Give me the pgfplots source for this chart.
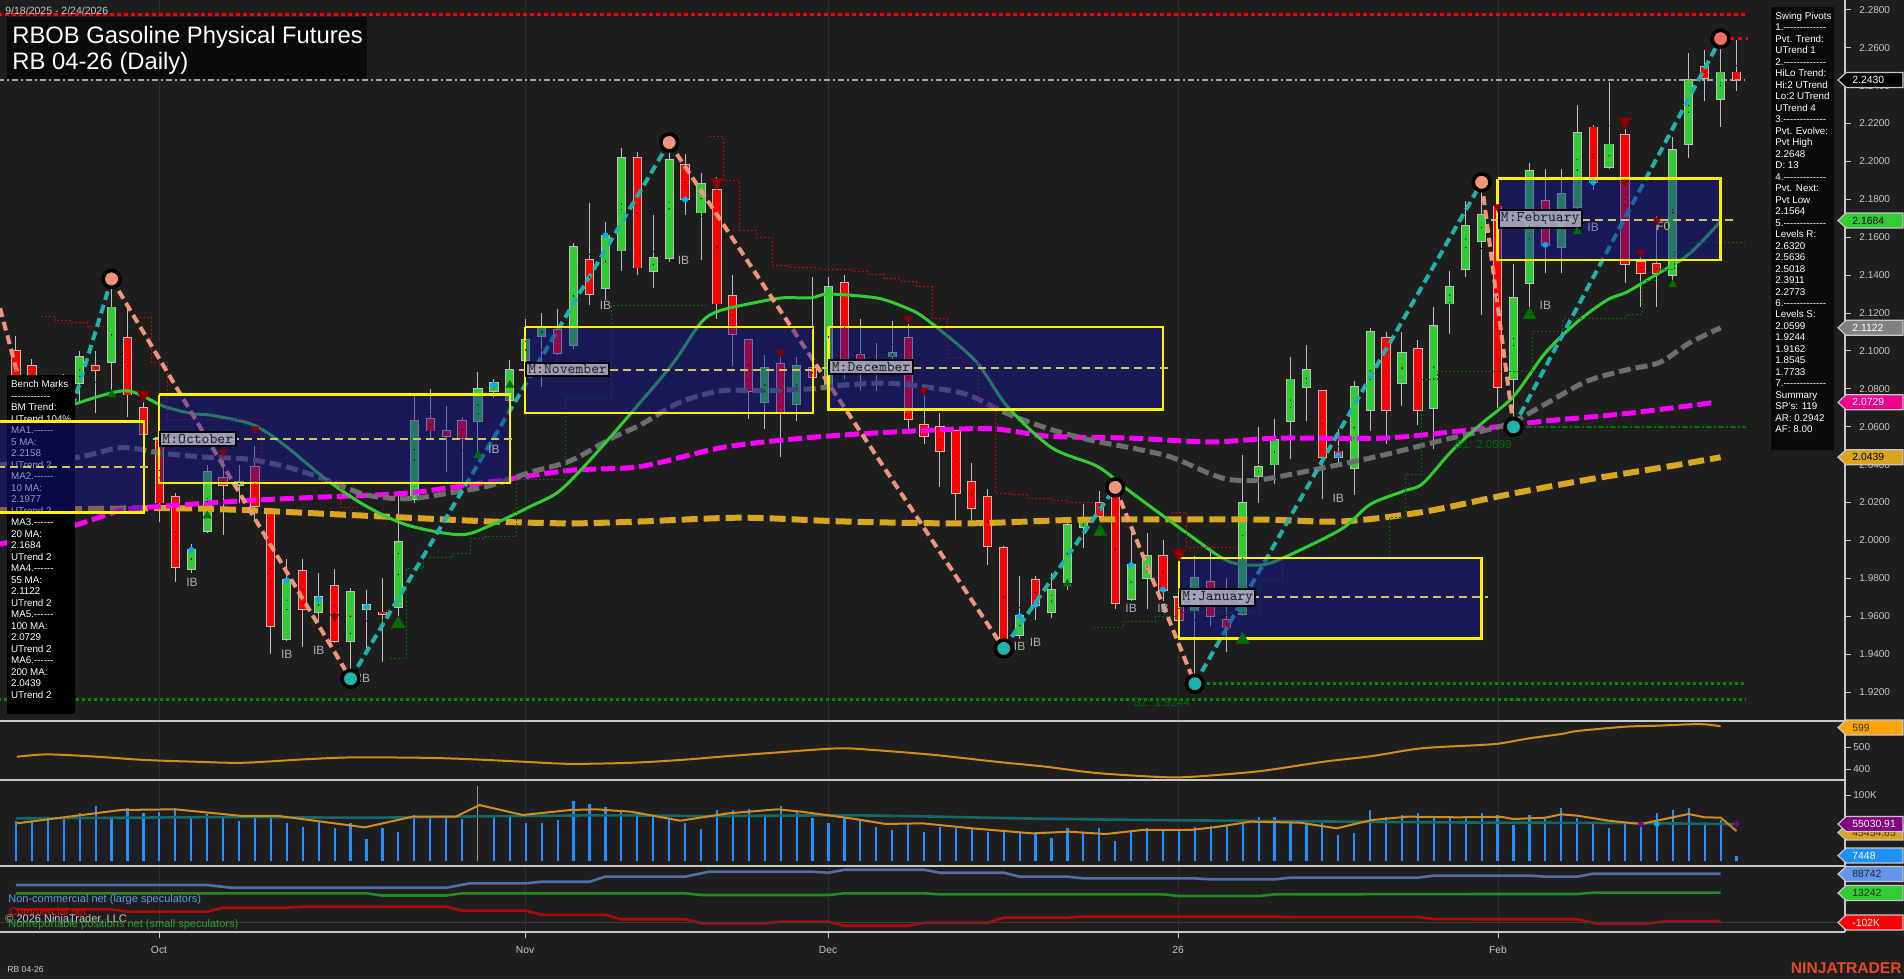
\documentclass[border=0pt]{standalone}
\usepackage{fontspec}
\setmainfont{Liberation Sans}
\usepackage{pgfplots}
\usepackage{pgfplotstable}
\pgfplotsset{compat=1.18}

\definecolor{bg}{RGB}{30,30,30}
\definecolor{wick}{RGB}{190,190,190}
\definecolor{upc}{RGB}{50,205,50}
\definecolor{dnc}{RGB}{255,0,0}
\definecolor{ma20}{RGB}{50,205,50}
\definecolor{ma55}{RGB}{110,110,110}
\definecolor{ma100}{RGB}{255,0,255}
\definecolor{ma200}{RGB}{218,165,32}
\definecolor{zzdn}{RGB}{240,150,120}
\definecolor{zzup}{RGB}{32,178,170}
\definecolor{boxfill}{RGB}{20,20,160}
\definecolor{midl}{RGB}{205,200,90}
\definecolor{lblfill}{RGB}{170,170,195}
\definecolor{axgray}{RGB}{200,200,200}
\definecolor{ibgray}{RGB}{175,175,175}
\definecolor{volblue}{RGB}{30,144,255}
\definecolor{cotblue}{RGB}{80,110,170}
\definecolor{cotgreen}{RGB}{34,139,34}
\definecolor{cotred}{RGB}{178,10,10}
\definecolor{ntorange}{RGB}{232,72,40}
\definecolor{gridc}{RGB}{46,46,46}
\definecolor{dkgreen}{RGB}{0,110,0}
\definecolor{dkred}{RGB}{139,0,0}
\definecolor{sgreen}{RGB}{0,145,0}
\definecolor{orline}{RGB}{210,140,25}
\definecolor{vteal}{RGB}{20,105,105}
\definecolor{legblue}{RGB}{100,149,237}
\definecolor{panelbk}{RGB}{10,10,10}
\definecolor{tagpurple}{RGB}{128,0,128}
\definecolor{tagorange}{RGB}{255,165,0}

\newcommand{\hy}{-\kern0pt}
\newcommand{\dl}{\hy\hy\hy\hy\hy\hy\hy\hy\hy\hy\hy\hy\hy}
\newcommand{\ds}{\hy\hy\hy\hy\hy\hy}
\newcommand{\db}{\hy\hy\hy\hy\hy\hy\hy\hy\hy\hy\hy\hy}
\newcommand{\ptag}[5]{%
  \draw[fill=#2, draw=#5, line width=0.6pt] (1838,#1) -- (1846,{#1-7.5}) -- (1903,{#1-7.5}) -- (1903,{#1+7.5}) -- (1846,{#1+7.5}) -- cycle;
  \node[anchor=west, inner sep=0pt, text=#3, font=\fontsize{5.2pt}{6pt}\selectfont] at (1852,#1) {#4};}

\pgfplotstableread{
i O H L C
3 2.045 2.088 2.040 2.083
4 2.083 2.100 2.073 2.097
6 2.094 2.138 2.079 2.123
11 1.985 1.998 1.983 1.995
12 2.005 2.040 2.004 2.036
14 2.029 2.040 2.020 2.031
17 1.948 1.990 1.947 1.979
19 1.962 1.983 1.957 1.970
21 1.947 1.975 1.927 1.973
22 1.964 1.974 1.941 1.966
24 1.965 2.026 1.960 1.999
25 2.022 2.076 2.020 2.063
29 2.063 2.089 2.045 2.080
30 2.079 2.085 2.075 2.083
31 2.074 2.095 2.070 2.090
32 2.095 2.117 2.093 2.106
33 2.108 2.120 2.081 2.112
35 2.103 2.157 2.101 2.155
37 2.133 2.168 2.127 2.161
38 2.153 2.207 2.142 2.202
40 2.142 2.172 2.133 2.149
41 2.149 2.210 2.147 2.201
43 2.173 2.194 2.148 2.188
47 2.073 2.098 2.059 2.091
49 2.072 2.097 2.063 2.092
51 2.081 2.139 2.075 2.134
54 2.091 2.104 2.079 2.092
55 2.097 2.116 2.091 2.099
63 1.950 1.981 1.948 1.960
65 1.962 1.983 1.959 1.974
66 1.978 2.012 1.974 2.008
67 2.007 2.019 1.996 2.010
70 1.969 2.004 1.968 1.987
71 1.980 2.004 1.964 1.992
74 1.963 1.992 1.9244 1.980
77 1.961 2.045 1.960 2.020
78 2.034 2.060 2.020 2.039
79 2.040 2.064 2.030 2.053
80 2.063 2.097 2.043 2.085
81 2.081 2.103 2.063 2.090
84 2.038 2.084 2.024 2.081
85 2.069 2.112 2.058 2.110
87 2.083 2.110 2.071 2.099
89 2.070 2.123 2.048 2.113
90 2.125 2.142 2.109 2.134
91 2.143 2.179 2.139 2.166
92 2.158 2.189 2.119 2.172
94 2.085 2.146 2.0599 2.128
95 2.136 2.199 2.119 2.195
97 2.155 2.196 2.141 2.183
98 2.176 2.230 2.172 2.215
100 2.197 2.242 2.196 2.209
104 2.140 2.213 2.136 2.206
105 2.209 2.257 2.202 2.243
107 2.233 2.2648 2.218 2.247
}\upc

\pgfplotstableread{
i O H L C
0 2.100 2.108 2.075 2.080
1 2.092 2.096 2.070 2.075
2 2.070 2.078 2.028 2.040
5 2.092 2.100 2.067 2.090
7 2.107 2.126 2.065 2.077
8 2.070 2.073 2.052 2.056
9 2.054 2.056 2.010 2.020
10 2.023 2.025 1.978 1.986
13 2.033 2.043 2.003 2.029
15 2.039 2.050 2.010 2.018
16 2.015 2.016 1.940 1.955
18 1.984 1.990 1.944 1.964
20 1.976 1.985 1.946 1.947
23 1.962 1.980 1.936 1.961
26 2.064 2.080 2.053 2.058
27 2.058 2.071 2.036 2.055
28 2.063 2.065 2.030 2.054
34 2.111 2.122 2.098 2.099
36 2.148 2.178 2.124 2.130
39 2.202 2.205 2.140 2.144
42 2.198 2.204 2.172 2.180
44 2.185 2.192 2.117 2.125
45 2.129 2.140 2.092 2.109
46 2.106 2.106 2.064 2.079
48 2.093 2.097 2.044 2.068
50 2.091 2.139 2.085 2.086
52 2.136 2.140 2.085 2.093
53 2.098 2.117 2.079 2.092
56 2.107 2.114 2.059 2.064
57 2.061 2.077 2.051 2.055
58 2.060 2.067 2.028 2.047
59 2.058 2.058 2.011 2.025
60 2.031 2.041 2.009 2.017
61 2.023 2.027 1.987 1.997
62 1.996 1.997 1.943 1.944
64 1.979 1.981 1.958 1.966
68 2.020 2.026 2.011 2.013
69 2.023 2.028 1.964 1.967
72 1.992 2.000 1.968 1.974
73 1.970 1.993 1.955 1.958
75 1.978 1.995 1.955 1.960
76 1.958 1.980 1.941 1.954
82 2.079 2.079 2.022 2.044
83 2.047 2.059 2.040 2.044
86 2.107 2.110 2.051 2.069
88 2.101 2.106 2.061 2.069
93 2.176 2.186 2.070 2.081
96 2.179 2.196 2.141 2.156
99 2.218 2.219 2.185 2.189
101 2.214 2.217 2.136 2.146
102 2.147 2.150 2.123 2.141
103 2.146 2.171 2.123 2.141
106 2.250 2.259 2.232 2.244
108 2.247 2.264 2.237 2.243
}\dnc

\pgfplotstableread{
i v
0 61.1
1 59.6
2 63.1
3 63.6
4 72.2
5 83.3
6 65.6
7 79.8
8 72.2
9 74.7
10 79.8
11 64.6
12 71.2
13 64.6
14 61.1
15 67.2
16 65.6
17 57.1
18 52.0
19 61.1
20 49.5
21 57.1
22 32.8
23 49.5
24 44.4
25 69.7
26 68.2
27 64.6
28 63.1
30 68.2
31 66.2
32 57.1
33 58.1
34 62.1
35 91.4
36 86.4
37 81.3
38 77.3
39 72.2
40 68.2
41 64.6
42 57.1
43 48.0
44 77.3
45 77.3
46 78.3
47 71.2
48 83.3
49 74.7
50 64.6
51 57.1
52 64.6
53 61.1
54 52.0
55 47.0
56 57.1
57 44.4
58 52.0
59 49.5
60 48.0
61 44.4
62 47.0
63 44.4
64 41.9
65 34.3
66 49.5
67 44.4
68 50.5
69 30.8
70 45.9
71 49.5
72 47.0
73 45.9
74 52.0
75 53.0
76 54.5
77 59.6
78 66.2
79 67.2
80 59.6
81 58.1
82 57.1
83 39.4
84 41.9
85 77.3
86 67.2
87 69.7
88 72.2
89 67.2
90 67.2
91 66.2
92 72.2
93 69.7
94 54.5
95 69.7
96 63.6
97 80.8
98 65.6
99 59.1
100 50.5
101 56.1
102 51.5
103 72.7
104 77.3
105 80.8
106 59.1
107 62.6
108 7.4
}\vol

\pgfplotsset{
  candlewick/.style={only marks, mark=*, mark size=0.01pt, mark options={draw=none, fill=none},
    error bars/.cd, y dir=both, y explicit, error mark=none,
    error bar style={line width=0.5pt, draw=wick}},
  candlebody/.style 2 args={only marks, mark=*, mark size=0.01pt, mark options={draw=none, fill=none},
    error bars/.cd, y dir=both, y explicit, error mark=none,
    error bar style={line width=#1, draw=#2}},
  panel/.style={anchor=north west, scale only axis, width=922.5pt, xmin=-1.004, xmax=114.81, hide axis},
}
\tikzset{ib/.style={font=\fontsize{6pt}{7pt}\selectfont, text=ibgray, inner sep=0pt},
  mlabel/.style={anchor=west, fill=lblfill, fill opacity=0.9, text opacity=1, draw=black, line width=1pt, inner sep=1.2pt,
    font=\ttfamily\fontsize{7.4pt}{8pt}\selectfont, text=black!85}}

\begin{document}
\begin{tikzpicture}
\path[use as bounding box] (0,0) rectangle (952pt,-489.5pt);
\fill[bg] (0,0) rectangle (952pt,-489.5pt);
\begin{scope}[x=0.5pt,y=-0.5pt]
  \foreach \gx in {159,525,828,1178,1498} {\draw[gridc, line width=0.5pt] (\gx,0) -- (\gx,932);}
\end{scope}

% ================= MAIN PRICE PANEL =================
\begin{axis}[
  at={(0pt,0pt)}, anchor=north west, scale only axis,
  width=922.5pt, height=360.5pt,
  xmin=-1.004, xmax=114.81, ymin=1.9047, ymax=2.2852,
  axis line style={draw=none},
  xtick=\empty,
  ytick={1.92,1.94,1.96,1.98,2.00,2.02,2.04,2.06,2.08,2.10,2.12,2.14,2.16,2.18,2.20,2.22,2.24,2.26,2.28},
  ytick pos=right, yticklabel pos=right,
  tick align=outside, major tick length=3pt,
  y tick style={axgray, line width=0.5pt},
  scaled y ticks=false,
  yticklabel style={font=\fontsize{5pt}{6pt}\selectfont, text=axgray, anchor=west, inner sep=0pt, xshift=4pt,
    /pgf/number format/.cd, fixed, fixed zerofill, precision=4, assume math mode=true},
]
% candles
\addplot[candlewick] table[x=i, y expr={(\thisrow{H}+\thisrow{L})/2}, y error expr={(\thisrow{H}-\thisrow{L})/2}] {\upc};
\addplot[candlewick] table[x=i, y expr={(\thisrow{H}+\thisrow{L})/2}, y error expr={(\thisrow{H}-\thisrow{L})/2}] {\dnc};
\addplot[candlebody={4.6pt}{wick}] table[x=i, y expr={(\thisrow{O}+\thisrow{C})/2}, y error expr={abs(\thisrow{C}-\thisrow{O})/2+0.00045}] {\upc};
\addplot[candlebody={4.6pt}{wick}] table[x=i, y expr={(\thisrow{O}+\thisrow{C})/2}, y error expr={abs(\thisrow{C}-\thisrow{O})/2+0.00045}] {\dnc};
\addplot[candlebody={3.6pt}{upc}] table[x=i, y expr={(\thisrow{O}+\thisrow{C})/2}, y error expr={max(abs(\thisrow{C}-\thisrow{O})/2,0.0002)}] {\upc};
\addplot[candlebody={3.6pt}{dnc}] table[x=i, y expr={(\thisrow{O}+\thisrow{C})/2}, y error expr={max(abs(\thisrow{C}-\thisrow{O})/2,0.0002)}] {\dnc};

% moving averages
\addplot[ma200, line width=3pt, dash pattern=on 8pt off 3pt, smooth] coordinates {(-1.0,2.016) (9.2,2.017) (14.4,2.016) (19.5,2.014) (24.6,2.012) (29.8,2.010) (34.8,2.009) (39.2,2.010) (45.6,2.012) (52.0,2.010) (59.7,2.009) (67.4,2.011) (78.1,2.011) (83.2,2.010) (88.3,2.015) (93.5,2.024) (98.6,2.032) (103.7,2.039) (107.0,2.0439)};
\addplot[ma100, line width=2.5pt, dash pattern=on 7pt off 2.5pt, smooth] coordinates {(-1.0,1.998) (3.7,2.008) (6.65,2.016) (9.2,2.018) (14.4,2.021) (19.5,2.023) (24.6,2.025) (29.8,2.031) (34.8,2.037) (39.2,2.039) (44.3,2.049) (49.4,2.054) (54.6,2.057) (61.0,2.059) (64.8,2.055) (69.9,2.054) (75.0,2.052) (79.3,2.054) (85.8,2.054) (90.9,2.058) (96.0,2.063) (101.1,2.067) (106.7,2.0729)};
\addplot[ma55, line width=2.5pt, dash pattern=on 6pt off 2.5pt, smooth] coordinates {(-1.0,2.040) (3.9,2.044) (6.65,2.049) (9.2,2.046) (11.8,2.044) (14.4,2.043) (16.9,2.039) (19.5,2.032) (22.0,2.024) (24.6,2.022) (27.2,2.025) (29.8,2.029) (32.3,2.036) (34.8,2.042) (37.4,2.054) (39.2,2.061) (41.7,2.073) (44.3,2.079) (46.8,2.079) (49.9,2.080) (52.0,2.082) (54.6,2.083) (57.1,2.081) (59.7,2.077) (62.2,2.067) (64.8,2.059) (67.4,2.053) (69.9,2.049) (72.5,2.044) (75.0,2.035) (76.3,2.032) (78.1,2.032) (81.9,2.038) (85.8,2.045) (89.6,2.053) (93.5,2.061) (96.0,2.072) (98.6,2.084) (101.1,2.090) (103.2,2.094) (105.0,2.104) (107.0,2.1122)};
\addplot[ma20, line width=1.5pt, smooth] coordinates {(2.0,2.066) (3.7,2.072) (6.9,2.079) (9.2,2.071) (11.0,2.067) (12.3,2.066) (14.9,2.061) (16.9,2.050) (19.5,2.032) (22.0,2.018) (24.6,2.008) (27.9,2.003) (29.8,2.008) (32.3,2.018) (34.1,2.026) (36.2,2.044) (39.0,2.071) (41.2,2.093) (43.0,2.115) (44.1,2.121) (46.1,2.125) (48.1,2.128) (49.9,2.128) (51.0,2.130) (54.0,2.128) (55.8,2.123) (57.1,2.117) (60.2,2.095) (62.2,2.071) (65.0,2.049) (67.9,2.039) (69.9,2.026) (73.8,2.002) (76.1,1.989) (78.1,1.987) (79.6,1.991) (83.2,2.006) (85.0,2.019) (87.1,2.026) (88.3,2.030) (90.1,2.047) (91.9,2.061) (94.0,2.076) (96.0,2.099) (98.1,2.116) (99.9,2.127) (101.1,2.131) (102.7,2.139) (105.0,2.151) (107.0,2.1684)};

% trailing stops
\addplot[const plot, red!85!black, line width=0.5pt, dash pattern=on 1pt off 1pt] coordinates {(1.56,2.118) (2.45,2.116) (3.48,2.115) (4.5,2.113) (5.5,2.113)};
\addplot[const plot, red!85!black, line width=0.5pt, dash pattern=on 1pt off 1pt] coordinates {(7.45,2.1177) (8.48,2.094) (9.5,2.064) (15.4,2.0314) (20.4,2.0173) (21.5,2.0173)};
\addplot[const plot, red!85!black, line width=0.5pt, dash pattern=on 1pt off 1pt] coordinates {(43.5,2.2132) (44.4,2.190) (45.4,2.1637) (46.5,2.1597) (47.5,2.1451) (48.5,2.1441) (50.4,2.143) (52.5,2.142) (53.5,2.1405) (54.5,2.138) (55.6,2.1365) (56.5,2.134) (57.5,2.117) (58.5,2.0967) (59.4,2.094) (60.4,2.071) (61.5,2.025) (62.5,2.024) (63.5,2.022) (65,2.021) (66,2.020) (67.6,2.020)};
\addplot[const plot, red!85!black, line width=0.5pt, dash pattern=on 1pt off 1pt] coordinates {(72.5,2.0146) (73.5,1.9965) (76.6,1.9965)};
\addplot[const plot, dkgreen, line width=0.5pt, dash pattern=on 1pt off 1pt] coordinates {(23.5,1.9375) (24.5,1.985) (25.6,1.991) (27.4,1.993) (28.5,2.001) (29.5,2.002) (31.4,2.032) (34.5,2.075) (37.4,2.124) (43.4,2.124)};
\addplot[const plot, dkgreen, line width=0.5pt, dash pattern=on 1pt off 1pt] coordinates {(67.6,1.954) (69.5,1.957) (71.5,1.960) (73,1.962) (78.1,1.979) (79.5,1.991) (86.2,2.012) (87.2,2.035) (88.2,2.085) (89.2,2.089) (95.2,2.110) (97.1,2.117) (101.1,2.119) (102.1,2.137) (103.1,2.143) (104.1,2.152) (105.1,2.157) (108.5,2.157)};

% horizontal levels
\addplot[red, line width=1.5pt, dash pattern=on 2pt off 1.5pt] coordinates {(-1.1,2.2773) (108.6,2.2773)};
\addplot[color={rgb,255:red,165;green,165;blue,165}, line width=0.6pt, dash pattern=on 3pt off 1.5pt on 1pt off 1.5pt] coordinates {(-1.1,2.243) (108.5,2.243)};
\addplot[sgreen, line width=1.5pt, dash pattern=on 1.5pt off 1.5pt] coordinates {(-1.1,1.9162) (108.6,1.9162)};
\addplot[sgreen, line width=1.5pt, dash pattern=on 1.5pt off 1.5pt] coordinates {(74,1.9244) (108.6,1.9244)};
\addplot[sgreen!80!black, line width=1.2pt, dash pattern=on 3pt off 1pt on 1pt off 1pt] coordinates {(94,2.0599) (108.6,2.0599)};
\addplot[red, line width=1.2pt, dash pattern=on 2pt off 2pt] coordinates {(107.6,2.2648) (108.7,2.2648)};

% zigzag swing legs
\addplot[zzdn, line width=2pt, dash pattern=on 4.5pt off 2.5pt] coordinates {(-1.0,2.1225) (2,2.028)};
\addplot[zzup, line width=2pt, dash pattern=on 4.5pt off 2.5pt] coordinates {(2,2.028) (6,2.138)};
\addplot[zzdn, line width=2pt, dash pattern=on 4.5pt off 2.5pt] coordinates {(6,2.138) (21,1.927)};
\addplot[zzup, line width=2pt, dash pattern=on 4.5pt off 2.5pt] coordinates {(21,1.927) (41,2.210)};
\addplot[zzdn, line width=2pt, dash pattern=on 4.5pt off 2.5pt] coordinates {(41,2.210) (62,1.943)};
\addplot[zzup, line width=2pt, dash pattern=on 4.5pt off 2.5pt] coordinates {(62,1.943) (69,2.028)};
\addplot[zzdn, line width=2pt, dash pattern=on 4.5pt off 2.5pt] coordinates {(69,2.028) (74,1.9244)};
\addplot[zzup, line width=2pt, dash pattern=on 4.5pt off 2.5pt] coordinates {(74,1.9244) (92,2.189)};
\addplot[zzdn, line width=2pt, dash pattern=on 4.5pt off 2.5pt] coordinates {(92,2.189) (94,2.0599)};
\addplot[zzup, line width=2pt, dash pattern=on 4.5pt off 2.5pt] coordinates {(94,2.0599) (107,2.2648)};

% monthly boxes
\addplot[draw=yellow, line width=1.25pt, fill=boxfill, fill opacity=0.45] coordinates {(8.98,2.0769) (31.0,2.0769) (31.0,2.0304) (8.98,2.0304) (8.98,2.0769)};
\addplot[draw=yellow, line width=1.25pt, fill=boxfill, fill opacity=0.45] coordinates {(31.95,2.1126) (50.03,2.1126) (50.03,2.0672) (31.95,2.0672) (31.95,2.1126)};
\addplot[draw=yellow, line width=1.25pt, fill=boxfill, fill opacity=0.45] coordinates {(51.0,2.1126) (72.0,2.1126) (72.0,2.0692) (51.0,2.0692) (51.0,2.1126)};
\addplot[draw=yellow, line width=1.25pt, fill=boxfill, fill opacity=0.45] coordinates {(73.0,1.9907) (92.0,1.9907) (92.0,1.9483) (73.0,1.9483) (73.0,1.9907)};
\addplot[draw=yellow, line width=1.25pt, fill=boxfill, fill opacity=0.45] coordinates {(93.0,2.1910) (107.0,2.1910) (107.0,2.1481) (93.0,2.1481) (93.0,2.1910)};
\addplot[midl, line width=1pt, dash pattern=on 4pt off 2.5pt] coordinates {(8.6,2.0536) (31.4,2.0536)};
\addplot[midl, line width=1pt, dash pattern=on 4pt off 2.5pt] coordinates {(31.6,2.0900) (50.4,2.0900)};
\addplot[midl, line width=1pt, dash pattern=on 4pt off 2.5pt] coordinates {(50.6,2.0910) (72.4,2.0910)};
\addplot[midl, line width=1pt, dash pattern=on 4pt off 2.5pt] coordinates {(72.6,1.9700) (92.4,1.9700)};
\addplot[midl, line width=1pt, dash pattern=on 4pt off 2.5pt] coordinates {(92.6,2.1693) (108.0,2.1693)};

% triangles
\addplot[only marks, mark=triangle*, mark size=2.2pt, color=dkgreen] coordinates {(6,2.077) (12,2.013) (29,2.045) (31,2.082) (66,1.977) (98,2.163) (104,2.135)};
\addplot[only marks, mark=triangle*, mark size=3.6pt, color=dkgreen] coordinates {(24,1.956) (68.05,2.0046) (77,1.9476) (95,2.119)};
\addplot[only marks, mark=triangle*, mark size=2.2pt, color=dkred, mark options={rotate=180}] coordinates {(15,2.0587) (13,2.0466) (20,1.9597) (48,2.099) (56,2.117) (57,2.079) (102,2.152) (103,2.169) (101,2.189) (93,2.176)};
\addplot[only marks, mark=triangle*, mark size=3.6pt, color=dkred, mark options={rotate=180}] coordinates {(8,2.077) (44,2.189) (73,1.993) (101,2.221)};

% cyan dots
\addplot[only marks, mark=*, mark size=1.3pt, color=cyan] coordinates {(11,1.995) (17,1.979) (19,1.969) (22,1.965) (30,2.082) (37,2.161) (42,2.180) (63,1.960) (64,1.966) (70,1.987) (72,1.974) (83,2.045) (96,2.156) (99,2.189)};

% pivot circles
\addplot[only marks, mark=*, mark size=4.2pt, mark options={fill=zzdn, draw=black, line width=1.8pt}] coordinates {(6,2.138) (41,2.210) (69,2.028) (92,2.189)};
\addplot[only marks, mark=*, mark size=4.2pt, mark options={fill={rgb,255:red,240;green,110;blue,100}, draw=black, line width=1.8pt}] coordinates {(107,2.2648)};
\addplot[only marks, mark=*, mark size=4.2pt, mark options={fill=zzup, draw=black, line width=1.8pt}] coordinates {(21,1.927) (62,1.943) (74,1.9244) (94,2.0599)};

% labels
\node[mlabel] at (axis cs:8.98,2.0537) {M:October};
\node[mlabel] at (axis cs:31.95,2.0902) {M:November};
\node[mlabel] at (axis cs:51.0,2.0915) {M:December};
\node[mlabel] at (axis cs:73.0,1.9699) {M:January};
\node[mlabel] at (axis cs:93.0,2.1696) {M:February};
\node[ib] at (axis cs:11.05,1.978) {IB};
\node[ib] at (axis cs:17,1.940) {IB};
\node[ib] at (axis cs:19,1.942) {IB};
\node[ib, anchor=west] at (axis cs:21.5,1.927) {IB};
\node[ib] at (axis cs:30,2.048) {IB};
\node[ib] at (axis cs:37,2.124) {IB};
\node[ib] at (axis cs:41.9,2.148) {IB};
\node[ib] at (axis cs:63,1.944) {IB};
\node[ib] at (axis cs:64,1.946) {IB};
\node[ib] at (axis cs:70,1.964) {IB};
\node[ib] at (axis cs:72,1.964) {IB};
\node[ib] at (axis cs:83,2.022) {IB};
\node[ib] at (axis cs:96,2.124) {IB};
\node[ib, text={rgb,255:red,130;green,140;blue,200}] at (axis cs:99,2.165) {IB};
\node[ib, text=midl] at (axis cs:103.4,2.166) {F0};
\node[font=\fontsize{5.75pt}{6pt}\selectfont, text=sgreen!75!black, inner sep=0pt] at (axis cs:92.1,2.0504) {S1: 2.0599};
\node[font=\fontsize{5.75pt}{6pt}\selectfont, text=sgreen!75!black, inner sep=0pt] at (axis cs:71.9,1.9142) {S2: 1.9244};
\end{axis}

% ================= BENCH MARKS PANEL =================
\begin{scope}[x=0.5pt,y=-0.5pt]
  \fill[black] (7,375) rectangle (75,714);
  \node[anchor=north west, align=left, inner sep=0pt, text=white, font=\fontsize{4.9pt}{5.75pt}\selectfont] at (10.7,380)
  {Bench Marks\\\db\\BM Trend:\\UTrend 104\%\\MA1.\ds\\5 MA:\\2.2158\\UTrend 2\\MA2.\ds\\10 MA:\\2.1977\\UTrend 2\\MA3.\ds\\20 MA:\\2.1684\\UTrend 2\\MA4.\ds\\55 MA:\\2.1122\\UTrend 2\\MA5.\ds\\100 MA:\\2.0729\\UTrend 2\\MA6.\ds\\200 MA:\\2.0439\\UTrend 2};
\end{scope}

% September box over the bench marks panel
\begin{axis}[panel, at={(0pt,0pt)}, height=360.5pt, ymin=1.9047, ymax=2.2852]
\addplot[draw=yellow, line width=1.25pt, fill=boxfill, fill opacity=0.45] coordinates {(-2,2.0627) (8.03,2.0627) (8.03,2.0147) (-2,2.0147) (-2,2.0627)};
\addplot[midl, line width=1pt, dash pattern=on 4pt off 2.5pt] coordinates {(-2,2.0385) (8.4,2.0385)};
\end{axis}

% ================= SUB PANELS =================
\begin{axis}[panel, at={(0pt,-360.5pt)}, height=29.5pt, ymin=348.8, ymax=623.3]
\addplot[orline, line width=1pt, smooth] coordinates {(0.06,457) (2.0,468) (5.1,457) (8.1,442) (11.2,434) (14.2,429) (18.1,445) (21.1,454) (25.7,452) (28.7,445) (31.8,434) (34.8,424) (38.6,429) (41.7,442) (44.7,460) (47.8,477) (51.6,496) (53.9,488) (57.7,465) (61.5,434) (64.6,411) (67.6,383) (70.7,367) (72.9,361) (75.2,371) (78.3,392) (82.1,434) (85.1,460) (88.2,496) (92,512) (93.2,519.5) (95,542.8) (97,562.8) (98,576.7) (101,596.7) (103,601.4) (105,607.8) (106,607.8) (107,599)};
\end{axis}

\begin{axis}[panel, at={(0pt,-390pt)}, height=43pt, ymin=-7.58, ymax=122.7]
\addplot[ycomb, volblue, line width=1.1pt] table[x=i, y=v] {\vol};
\addplot[ycomb, color={rgb,255:red,150;green,150;blue,150}, line width=0.5pt] coordinates {(29,113.6)};
\addplot[vteal, line width=1.3pt, smooth] coordinates {(0,64.6) (7,65.6) (14,66.6) (22,65.6) (29,67.6) (37,69.2) (44,68.2) (52,69.2) (57,67.6) (63,64.6) (71,62.1) (79,60.6) (86,59.1) (93,58.1) (100,57.6) (108,56.0)};
\addplot[orline, line width=1pt] coordinates {(0.06,57.1) (6.6,77.3) (10.0,78.3) (14.2,68.2) (16.5,68.2) (21.9,51.0) (24.9,67.2) (27.6,67.2) (29.1,84.8) (31.8,69.7) (34.8,77.3) (36.4,78.3) (38.6,74.7) (41.7,61.1) (44.7,72.2) (47.8,78.3) (49.3,74.7) (52.4,64.6) (54.6,56.1) (56.9,57.1) (60.0,49.5) (63.8,41.9) (66.1,44.4) (68.4,40.9) (70.7,47.0) (73.7,47.0) (75.2,51.0) (77.5,59.6) (80.6,58.1) (82.9,49.5) (85.1,62.1) (87.4,67.2) (90.5,66.2) (93.2,67) (94,63.6) (96,65.6) (97,70.7) (98,68.7) (100,61) (102,56) (104,66.2) (105,71.2) (106,66.2) (107,65.7) (108,45.4)};
\addplot[only marks, mark=*, mark size=1.2pt, color=tagpurple] coordinates {(102,56.1) (108,56.0)};
\addplot[only marks, mark=*, mark size=1.2pt, color=cyan] coordinates {(103,56.0)};
\end{axis}

\begin{axis}[panel, at={(0pt,-433pt)}, height=33pt, ymin=-146.6, ymax=121.2]
\addplot[cotblue, line width=1.3pt] coordinates {(0,44) (12,44) (13.5,33) (27,33) (28.5,51) (32,51) (33,57.5) (36,57.5) (37,78) (42,78) (43.5,98) (50,98) (51,94) (52,106) (57,106) (58,94) (62,94) (63,78) (66,78) (67,71) (74,71) (75,67) (79,67) (80,74) (88,74) (89,82) (95,82) (96,78) (98,78) (99,90) (107,89.9)};
\addplot[cotgreen, line width=1.3pt] coordinates {(0,10.4) (22,10.4) (23,1.5) (27,1.5) (28,10.4) (42,10.4) (43,3.5) (51,3.5) (52,10.4) (57,10.4) (58,6.3) (72,6.3) (73,-0.5) (78,-0.5) (79,6.3) (93,7.6) (98,7.6) (99,12.9) (107,13.2)};
\addplot[cotred, line width=1.3pt] coordinates {(0,-54.5) (6,-54.5) (7,-64) (12,-64) (13,-48) (17,-48) (18,-44) (27,-44) (28,-60) (32,-60) (33,-77) (37,-77) (38,-95) (42,-95) (43,-111) (47,-111) (48,-105) (51,-105) (52,-121) (56,-121) (57,-109) (61,-109) (62,-88) (66,-88) (67,-84) (79,-84) (80,-86) (88,-86) (89,-94) (93,-95) (98,-95) (99.3,-113) (102.4,-113) (103.5,-103) (107,-102)};
\end{axis}

% ================= FRAME, TEXT, TAGS =================
\begin{scope}[x=0.5pt,y=-0.5pt]
  \draw[color={rgb,255:red,60;green,60;blue,60}, line width=0.6pt] (0,922.3) -- (1845,922.3);
  \foreach \sy in {721,780,866,932} {\draw[axgray, line width=0.75pt] (0,\sy) -- (1845,\sy);}
  \draw[axgray, line width=0.6pt] (1845,0) -- (1845,932);
  \foreach \gx in {159,525,828,1178,1498} {\draw[axgray, line width=0.5pt] (\gx,932) -- (\gx,938);}
  \foreach \ty/\tl in {747/500,769/400,795/100K} {
    \draw[axgray, line width=0.5pt] (1845,\ty) -- (1851,\ty);
    \node[anchor=west, inner sep=0pt, text=axgray, font=\fontsize{5pt}{6pt}\selectfont] at (1853,\ty) {\tl};}
  % swing pivots panel
  \fill[panelbk] (1771,7) rectangle (1834,450);
  \node[anchor=north west, align=left, inner sep=0pt, text=white, font=\fontsize{4.9pt}{5.74pt}\selectfont] at (1775,12)
  {Swing Pivots\\1.\dl\\Pvt. Trend:\\UTrend 1\\2.\dl\\HiLo Trend:\\Hi:2 UTrend\\Lo:2 UTrend\\UTrend 4\\3.\dl\\Pvt. Evolve:\\Pvt High\\2.2648\\D: 13\\4.\dl\\Pvt. Next:\\Pvt Low\\2.1564\\5.\dl\\Levels R:\\2.6320\\2.5636\\2.5018\\2.3911\\2.2773\\6.\dl\\Levels S:\\2.0599\\1.9244\\1.9162\\1.8545\\1.7733\\7.\dl\\Summary\\SP's: 119\\AR: 0.2942\\AF: 8.00};
  % title
  \fill[panelbk] (7,17) rectangle (367,79);
  \node[anchor=base west, inner sep=0pt, text=white, font=\fontsize{11.9pt}{14pt}\selectfont] at (12,43.5) {RBOB Gasoline Physical Futures};
  \node[anchor=base west, inner sep=0pt, text=white, font=\fontsize{11.9pt}{14pt}\selectfont] at (12,70) {RB 04-26 (Daily)};
  \node[anchor=base west, inner sep=0pt, text=axgray, font=\fontsize{5.25pt}{6pt}\selectfont] at (5,14.5) {9/18/2025 - 2/24/2026};
  % dates
  \foreach \gx/\gl in {159/Oct,525/Nov,828/Dec,1178/26,1498/Feb} {
    \node[text=axgray, inner sep=0pt, font=\fontsize{5.15pt}{6pt}\selectfont] at (\gx,950) {\gl};}
  \node[anchor=base west, inner sep=0pt, text=axgray!85, font=\fontsize{4.3pt}{5pt}\selectfont] at (7,972) {RB 04-26};
  \node[anchor=east, inner sep=0pt, text=ntorange, font=\bfseries\fontsize{7.8pt}{9pt}\selectfont] at (1902,968) {NINJATRADER};
  % COT legend
  \node[anchor=base west, inner sep=0pt, text=legblue, font=\fontsize{5.5pt}{6pt}\selectfont] at (8,902) {Non-commercial net (large speculators)};
  \node[anchor=base west, inner sep=0pt, text=red, font=\fontsize{5.5pt}{6pt}\selectfont] at (9,915) {Commercial net};
  \node[anchor=base west, inner sep=0pt, text=axgray, font=\fontsize{5.5pt}{6pt}\selectfont] at (5,922) {© 2026 NinjaTrader, LLC};
  \node[anchor=base west, inner sep=0pt, text=upc!80!black, font=\fontsize{5.5pt}{6pt}\selectfont] at (8,927) {Nonreportable positions net (small speculators)};
  % price tags
  \ptag{80}{black}{white}{2.2430}{axgray}
  \ptag{220.5}{upc}{black}{2.1684}{axgray}
  \ptag{327.8}{gray}{white}{2.1122}{axgray}
  \ptag{402.3}{magenta}{white}{2.0729}{axgray}
  \ptag{457.2}{ma200}{black}{2.0439}{axgray}
  \ptag{727.5}{tagorange}{black!80}{599}{axgray}
  \ptag{832.5}{ma200}{black!80}{45454.65}{axgray}
  \ptag{824}{tagpurple}{white}{55030.91}{axgray}
  \ptag{855.5}{volblue}{white}{7448}{axgray}
  \ptag{874}{legblue}{black!85}{88742}{axgray}
  \ptag{893}{upc}{black!85}{13242}{axgray}
  \ptag{922.5}{red}{white}{-102K}{axgray}
\end{scope}
\end{tikzpicture}
\end{document}
